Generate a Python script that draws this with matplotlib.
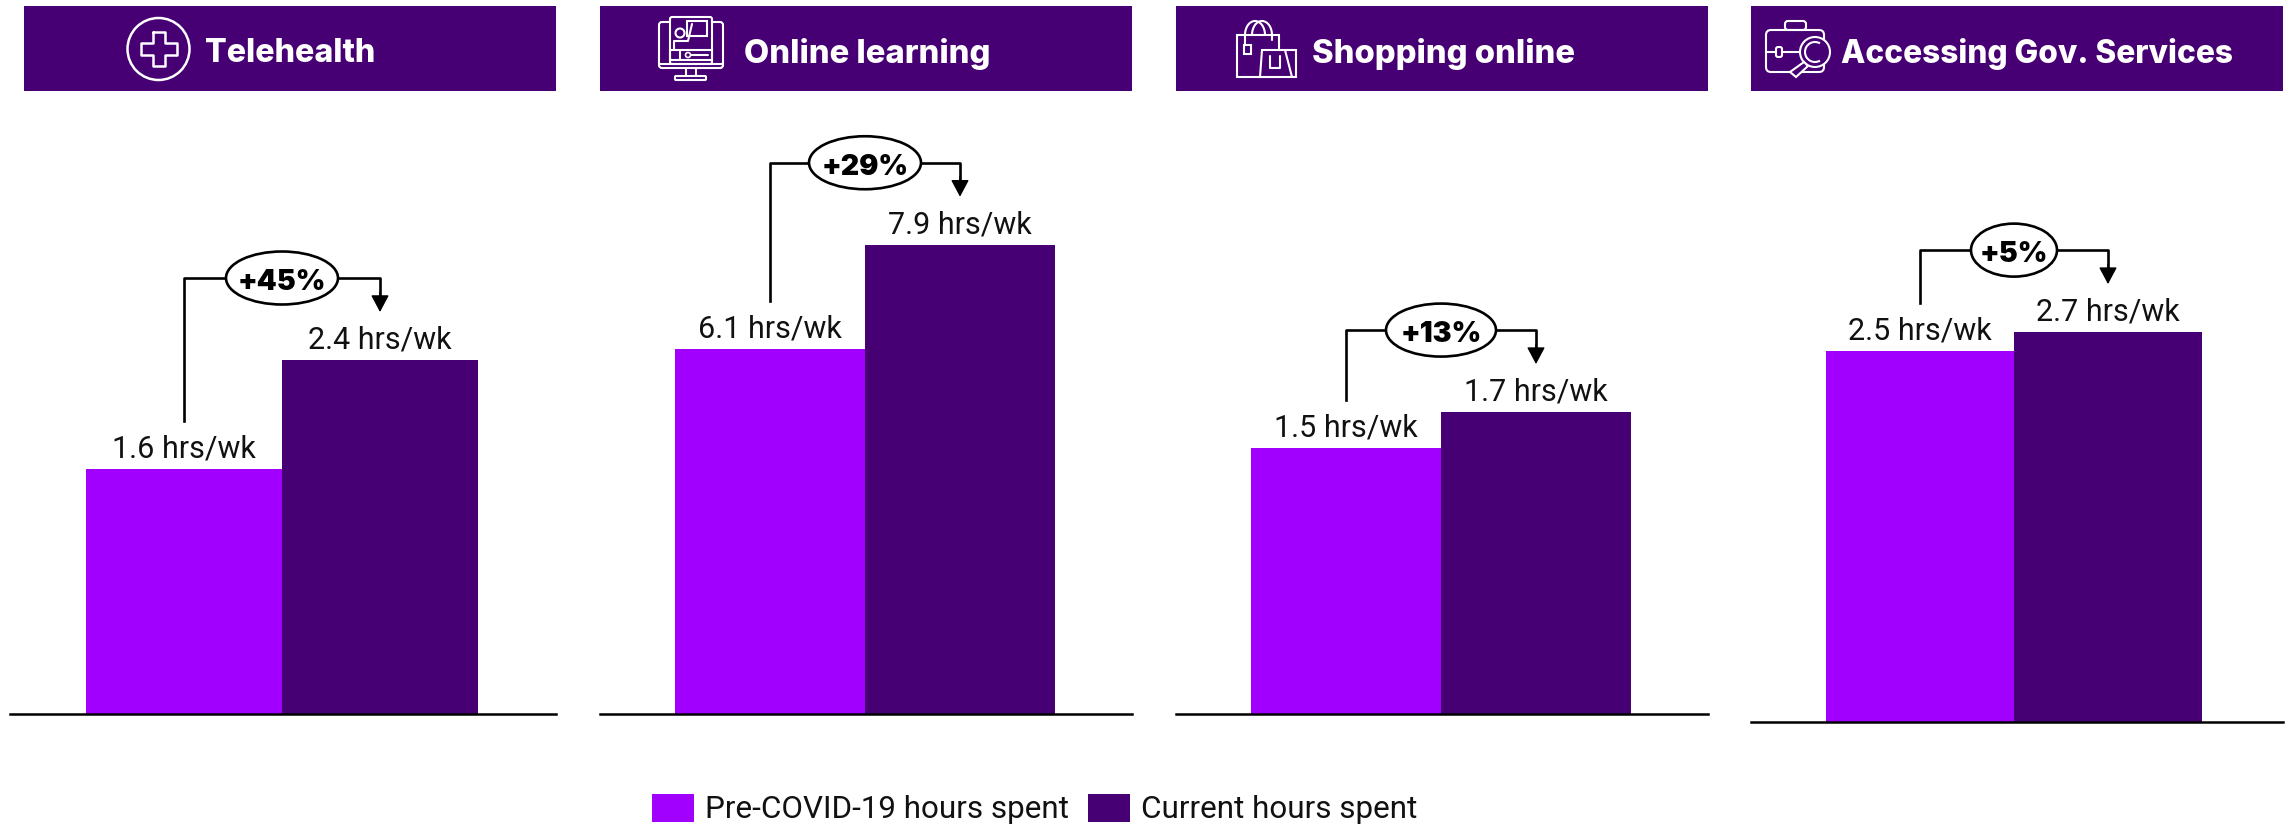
import numpy as np
import matplotlib
matplotlib.use("Agg")
import matplotlib.pyplot as plt
from matplotlib.patches import Rectangle, Ellipse, Circle, FancyBboxPatch, Arc, Polygon

# data
topics = ["Telehealth", "Online learning", "Shopping online", "Accessing Gov. Services"]
pre_hours = [1.66, 6.15, 1.5, 2.57]
cur_hours = [2.4, 7.9, 1.7, 2.7]
pre_labels = ["1.6 hrs/wk", "6.1 hrs/wk", "1.5 hrs/wk", "2.5 hrs/wk"]
cur_labels = ["2.4 hrs/wk", "7.9 hrs/wk", "1.7 hrs/wk", "2.7 hrs/wk"]
changes = ["+45%", "+29%", "+13%", "+5%"]
legend_names = ["Pre-COVID-19 hours spent", "Current hours spent"]

# layout, all in pixels of the 2292x824 picture
W, H = 2292, 824
panel_x = [(10, 556), (600, 1132), (1176, 1708), (1751, 2283)]
head_x = [(24, 556), (600, 1132), (1176, 1708), (1751, 2283)]
bar_mid = [282, 865, 1441, 2014]
bar_w = [196, 190, 190, 188]
base_y = [714, 714, 714, 722]
px_per_hr = [147.5, 59.4, 177.6, 144.4]
head_text_x = [205, 744, 1312, 1841]
head_size = [23.2, 23.6, 23.6, 22.8]
pill_w = [112, 112, 110, 86]

PURPLE = "#A100FF"
DARK = "#460073"

plt.rcParams['font.family'] = ['Roboto', 'DejaVu Sans']

fig = plt.figure(figsize=(W / 100, H / 100), dpi=100, facecolor="white")

over = fig.add_axes([0, 0, 1, 1], zorder=5)
over.set_xlim(0, W)
over.set_ylim(H, 0)
over.axis("off")
over.patch.set_alpha(0)


def line(xs, ys, lw=1.5):
    over.plot(xs, ys, color="white", lw=lw, solid_capstyle="round", zorder=3)


def box(x0, y0, x1, y1, lw=1.5, fill="none", round_px=0):
    if round_px:
        p = FancyBboxPatch((x0, y0), x1 - x0, y1 - y0, boxstyle=f"round,pad=0,rounding_size={round_px}",
                           fc=fill, ec="white", lw=lw, zorder=3)
    else:
        p = Rectangle((x0, y0), x1 - x0, y1 - y0, fc=fill, ec="white", lw=lw, zorder=3)
    over.add_patch(p)


def icon_cross():
    over.add_patch(Circle((158.5, 49), 31, fc="none", ec="white", lw=1.8, zorder=3))
    a, b, c, d = 141, 153, 165, 177
    e, f, g, h = 32, 43, 55, 66
    line([b, c, c, d, d, c, c, b, b, a, a, b, b], [e, e, f, f, g, g, h, h, g, g, f, f, e], lw=1.8)


def icon_monitor():
    box(659, 22, 723, 68, round_px=3)
    box(670, 17, 712, 64, fill=DARK, round_px=2)
    box(687, 21, 707, 36, fill=DARK)
    over.add_patch(Circle((680, 33), 4.5, fc=DARK, ec="white", lw=1.5, zorder=3))
    line([674, 674, 688, 692], [50, 41, 41, 24])
    box(670, 50, 712, 60)
    line([680, 680], [50, 60])
    line([688, 708], [55, 55])
    over.add_patch(Circle((688, 55), 2.5, fc=DARK, ec="white", lw=1.2, zorder=3))
    line([659, 723], [64, 64])
    line([686, 686], [68, 76])
    line([696, 696], [68, 76])
    box(675, 76, 706, 80, round_px=1)


def icon_bags():
    box(1237, 35, 1279, 77)
    over.add_patch(Arc((1255, 35), 20, 28, theta1=180, theta2=360, ec="white", lw=1.5, zorder=3))
    over.add_patch(Arc((1262, 35), 20, 28, theta1=180, theta2=360, ec="white", lw=1.5, zorder=3))
    line([1245, 1245], [35, 44])
    line([1272, 1272], [35, 40])
    box(1244, 45, 1251, 54)
    over.add_patch(Polygon([(1262, 50), (1296, 50), (1296, 77), (1260, 77)], fc=DARK, ec="white", lw=1.5, zorder=3))
    line([1285, 1292], [50, 77])
    line([1270, 1270, 1280, 1280], [56, 68, 68, 56])


def icon_case():
    box(1766, 30, 1824, 72, round_px=5)
    box(1785, 21, 1806, 30, round_px=3)
    box(1776, 47, 1782, 57, round_px=2)
    line([1766, 1776], [52, 52])
    line([1782, 1800], [52, 52])
    over.add_patch(Circle((1815, 52), 15, fc=DARK, ec="white", lw=1.5, zorder=3))
    over.add_patch(Arc((1815, 52), 20, 20, theta1=60, theta2=300, ec="white", lw=1.5, zorder=4))
    over.add_patch(Polygon([(1804, 62), (1808, 66), (1796, 77), (1790, 72)], fc=DARK, ec="white", lw=1.5, zorder=3))


for i, topic in enumerate(topics):
    x0, x1 = panel_x[i]
    base = base_y[i]
    mid = bar_mid[i]
    w = bar_w[i]
    ppu = px_per_hr[i]

    ax = fig.add_axes([x0 / W, 1 - base / H, (x1 - x0) / W, base / H])
    ax.set_xlim((x0 - mid) / w, (x1 - mid) / w)
    ax.set_ylim(0, base / ppu)
    ax.patch.set_alpha(0)
    for s in ["top", "left", "right"]:
        ax.spines[s].set_visible(False)
    ax.spines["bottom"].set_linewidth(1.8)
    ax.set_xticks([])
    ax.set_yticks([])

    ax.bar(-0.5, pre_hours[i], width=1, color=PURPLE, label=legend_names[0])
    ax.bar(0.5, cur_hours[i], width=1, color=DARK, label=legend_names[1])

    ax.annotate(pre_labels[i], (-0.5, pre_hours[i]), xytext=(0, 4), textcoords="offset points",
                ha="center", va="bottom", fontsize=22, color="#111111")
    ax.annotate(cur_labels[i], (0.5, cur_hours[i]), xytext=(0, 4), textcoords="offset points",
                ha="center", va="bottom", fontsize=22, color="#111111")

    # change connector sits a fixed distance above the bars
    y_top = cur_hours[i] + 82 / ppu
    y_start = pre_hours[i] + 48 / ppu
    y_tip = cur_hours[i] + 48 / ppu
    ax.plot([-0.5, -0.5, 0.5, 0.5], [y_start, y_top, y_top, y_top - 20 / ppu], color="black", lw=1.9, zorder=3)
    ax.annotate("", xy=(0.5, y_tip), xytext=(0.5, y_top - 14 / ppu),
                arrowprops=dict(arrowstyle="-|>,head_length=0.75,head_width=0.4", color="black", lw=1,
                                shrinkA=0, shrinkB=0, mutation_scale=14))
    ax.add_patch(Ellipse((0, y_top), pill_w[i] / w, 53 / ppu, fc="white", ec="black", lw=1.9, zorder=4))
    ax.annotate(changes[i], (0, y_top), xytext=(0, -1), textcoords="offset points", ha="center",
                va="center_baseline", fontsize=20.5, family=["Inter", "DejaVu Sans"],
                fontweight=900, color="black", zorder=5)

    hx0, hx1 = head_x[i]
    over.add_patch(Rectangle((hx0, 6), hx1 - hx0, 85, fc=DARK, ec="none", zorder=1))
    over.text(head_text_x[i], 50, topic, ha="left", va="center_baseline", fontsize=head_size[i], color="white",
              family=["Inter", "DejaVu Sans"], fontweight=800, zorder=3)

    if i == 0:
        handles, names = ax.get_legend_handles_labels()

icon_cross()
icon_monitor()
icon_bags()
icon_case()

fig.legend(handles, names, ncol=2, frameon=False, loc="center left", bbox_to_anchor=(652 / W, 1 - 809 / H),
           borderaxespad=0, borderpad=0, fontsize=22.6, handlelength=1.33, handleheight=1.02,
           handletextpad=0.36, columnspacing=0.6, labelcolor="#111111")

fig.savefig("out.png", dpi=100)
